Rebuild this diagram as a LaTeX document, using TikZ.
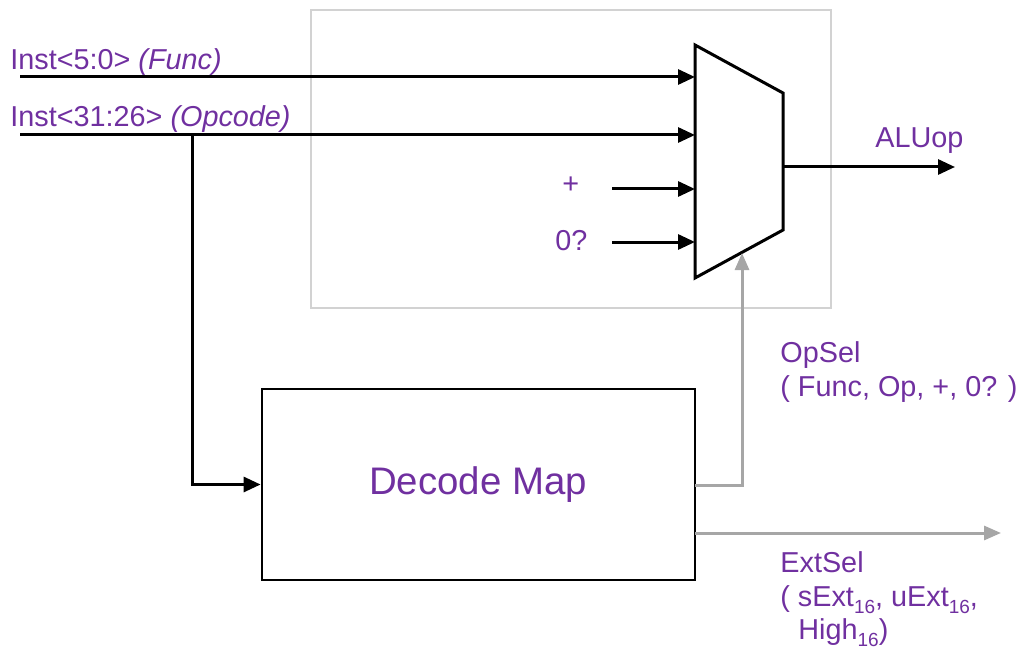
\documentclass[tikz,border=0pt]{standalone}
\usepackage{fontspec}
\setmainfont{Liberation Sans}
\usetikzlibrary{arrows.meta}
\definecolor{txt}{RGB}{112,48,160}
\definecolor{wiregray}{RGB}{166,166,166}
\definecolor{framegray}{RGB}{210,210,210}
\newcommand\mysub[1]{\raisebox{-0.5ex}{\fontsize{9.5}{10}\selectfont #1}}
\tikzset{
  wire/.style={line width=1.5pt, -{Triangle[length=8.5pt,width=7.5pt]}},
  graywire/.style={line width=1.5pt, draw=wiregray, -{Triangle[length=8.5pt,width=7pt]}},
  lbl/.style={text=txt, font=\fontsize{14.4}{17}\selectfont, inner sep=0pt, anchor=base west},
}
\begin{document}
\begin{tikzpicture}[x=0.5pt,y=-0.5pt]
\useasboundingbox (0,0) rectangle (1021,652);
% frame
\draw[framegray, line width=1.4pt] (311,10) rectangle (831,308);
% mux
\draw[line width=1.5pt, line join=miter] (695,45) -- (783,93) -- (783,230) -- (695,278) -- cycle;
\coordinate (m1) at (695,77);
\coordinate (m2) at (695,135);
\coordinate (m3) at (695,189);
\coordinate (m4) at (695,242);
\coordinate (mout) at (783,167);
\coordinate (msel) at (742,253);
% sources
\coordinate (s1) at (20,77);
\coordinate (s2) at (20,135);
\coordinate (s3) at (612,189);
\coordinate (s4) at (612,242);
\coordinate (br) at (192,135);
\coordinate (aluend) at (955,167);
% labels
\node[lbl] (lfunc) at (10,70) {Inst<5:0> \textit{(Func)}};
\node[lbl] (lop) at (10,127) {Inst<31:26> \textit{(Opcode)}};
\node[lbl] (lplus) at (562,194) {+};
\node[lbl] (lzero) at (555,250) {0?};
\node[lbl] (lalu) at (875,148) {ALUop};
% decode box
\node[draw, line width=1.4pt, minimum width=216.5pt, minimum height=95.5pt, inner sep=0pt] (dec) at (478.5,484.5) {};
\node[text=txt, font=\fontsize{19.2}{22}\selectfont, inner sep=0pt] (dectxt) at (478,485) {Decode Map};
% wires
\draw[wire] (s1) -- (m1);
\draw[wire] (s2) -- (m2);
\draw[wire] (s3) -- (m3);
\draw[wire] (s4) -- (m4);
\draw[wire] (mout) -- (aluend);
\draw[wire] (br) |- (dec.west);
% gray outputs
\coordinate (oref) at (695,485);
\coordinate (eref) at (695,533);
\coordinate (eend) at (1001,533);
\draw[graywire] (oref) -| (msel);
\draw[graywire] (eref) -- (eend);
% output labels
\node[lbl] (los1) at (780,362) {OpSel};
\node[lbl] (los2) at (780,396) {( Func, Op, +, 0? )};
\node[lbl] (les1) at (780,572) {ExtSel};
\node[lbl] (les2) at (780,606) {( sExt\mysub{16}, uExt\mysub{16},};
\node[lbl] (les3) at (798,639) {High\mysub{16})};
\end{tikzpicture}
\end{document}
